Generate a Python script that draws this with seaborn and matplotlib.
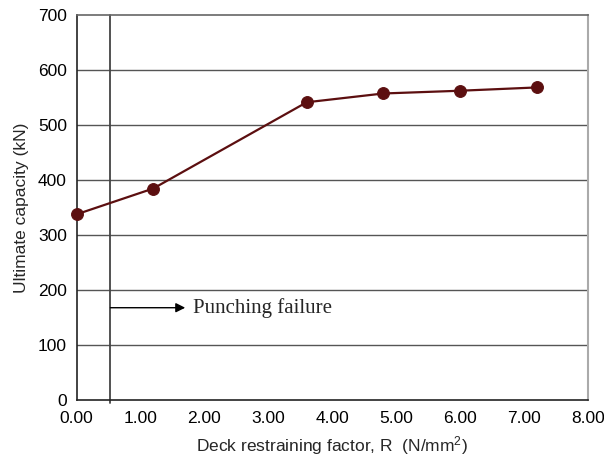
import matplotlib
matplotlib.use("Agg")
import matplotlib.pyplot as plt
import seaborn as sns
import pandas as pd

# Data
restraint = [0.0, 1.2, 3.6, 4.8, 6.0, 7.2]
capacity = [338, 385, 542, 558, 563, 569]
x_ticks = [0, 1, 2, 3, 4, 5, 6, 7, 8]
x_tick_labels = ["0.00", "1.00", "2.00", "3.00", "4.00", "5.00", "6.00", "7.00", "8.00"]
y_ticks = [0, 100, 200, 300, 400, 500, 600, 700]
punching_limit = 0.53
arrow_y = 168
arrow_end = 1.7

sns.set_style("white")
plt.rcParams['font.family'] = ['Liberation Sans', 'DejaVu Sans']
plt.rcParams['mathtext.default'] = 'regular'

df = pd.DataFrame({"R": restraint, "cap": capacity})

fig = plt.figure(figsize=(6.04, 4.62), dpi=100)
ax = fig.add_axes([0.1267, 0.1342, 0.8468, 0.8323])

color = "#5c0f10"
sns.lineplot(data=df, x="R", y="cap", ax=ax, color=color, linewidth=1.6,
             marker="o", markersize=8.5, markeredgecolor=color, markerfacecolor=color,
             zorder=5, clip_on=False)

ax.set_xlim(0, 8)
ax.set_ylim(0, 700)
ax.set_xticks(x_ticks)
ax.set_xticklabels(x_tick_labels)
ax.set_yticks(y_ticks)

for yv in y_ticks[1:-1]:
    ax.axhline(yv, color="#555555", linewidth=1.0, zorder=0)

ax.axvline(punching_limit, ymin=-0.008, ymax=1.0, color="#444444", linewidth=1.3, clip_on=False, zorder=1)
ax.annotate("", xy=(arrow_end, arrow_y), xytext=(punching_limit, arrow_y),
            arrowprops=dict(arrowstyle="-|>", color="black", lw=1.0, mutation_scale=14,
                            shrinkA=0, shrinkB=0))
ax.text(arrow_end + 0.12, arrow_y, "Punching failure", family=["Liberation Serif", "DejaVu Serif"],
        fontsize=15, va="center", ha="left")

for side in ["left", "bottom"]:
    ax.spines[side].set_color("#222222")
    ax.spines[side].set_linewidth(1.2)
ax.spines["right"].set_color("#aaaaaa")
ax.spines["right"].set_linewidth(1.5)
ax.spines["top"].set_color("#666666")
ax.spines["top"].set_linewidth(1.2)

ax.tick_params(axis="x", direction="in", length=4, width=1, colors="#222222", labelsize=12.5, pad=8, labelcolor="black")
ax.tick_params(axis="y", direction="out", length=4, width=1, colors="#222222", labelsize=12.5, pad=3, labelcolor="black")

ax.set_xlabel(r"Deck restraining factor, R  (N/mm$^2$)", fontsize=12.5, labelpad=6)
ax.set_ylabel("Ultimate capacity (kN)", fontsize=12.5, labelpad=6)

fig.savefig("out.png", dpi=100)
